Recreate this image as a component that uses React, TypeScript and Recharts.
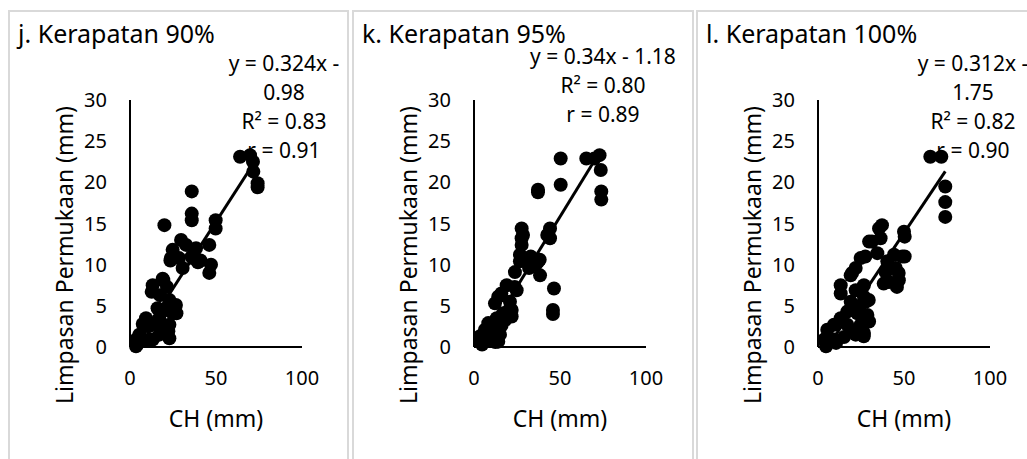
import React from "react";
import { ScatterChart, Scatter, XAxis, YAxis, ReferenceLine, Label } from "recharts";

// CH (mm) vs Limpasan Permukaan (mm), one pair of arrays per panel
const ch90 = [
  64, 69.8, 71.5, 71.7, 74.2, 74.2, 35.9, 35.9, 35.9, 20, 49.8, 49.8,
  29.7, 24.8, 23.8, 32.6, 38.4, 46.1, 47.1, 46.1, 36.4, 41, 30.6, 35.9, 39.5, 28.5, 23.5,
  19, 13.2, 12.6, 17.4, 22.9, 26.7, 24.8, 21, 16, 17, 9.3, 7.4, 13.2, 22.9, 22.9, 5.4, 3.5,
  11.2, 13.2, 17, 21.5, 19.4, 27, 22.3, 4.2, 3.5, 8.7, 10.7, 16.4,
];
const lp90 = [
  23.1, 23.3, 22.5, 21.3, 19.9, 19.4, 18.9, 16.2, 15.4, 14.8, 15.4, 14.4,
  13.0, 11.8, 10.8, 12.4, 12.0, 12.4, 10.0, 9.0, 10.8, 10.5, 9.6, 11.0, 10.3, 10.8, 10.5,
  8.3, 7.5, 6.7, 6.3, 5.7, 5.1, 4.1, 4.5, 4.7, 3.5, 3.5, 2.8, 2.8, 2.7, 1.05, 1.5, 0.9,
  0.9, 0.9, 1.5, 7.3, 8.1, 4.1, 1.9, 0.3, 0.1, 0.8, 2.5, 2.6,
];

const ch95 = [
  50.4, 65.3, 70, 73, 73.7, 74, 74, 50.4, 37.2, 37.2, 46.5, 45.9, 45.9,
  27.7, 27.7, 27.7, 28.5, 44.2, 44.2, 42.6, 26.7, 26.7, 23.8, 32.6, 37.4, 38.4, 32, 36, 38.2, 33,
  19, 24.8, 14.1, 12.2, 20.9, 21.9, 21.9, 16.9, 13.2, 8.3, 6.4, 11.2, 16, 15.1, 3.5, 3.5,
  9.3, 14.1, 23.7, 15.9, 4.7, 12.4, 18.2,
];
const lp95 = [
  22.9, 22.9, 22.9, 23.3, 21.5, 18.9, 17.9, 19.7, 19.1, 18.8, 7.1, 4.5, 4.0,
  14.4, 13.2, 12.4, 13.6, 14.4, 13.2, 13.6, 11.2, 10.4, 9.1, 10.8, 10.4, 8.7, 9.6, 10, 10.6, 11,
  7.5, 6.9, 6.1, 5.3, 5.5, 4.5, 3.7, 4.1, 3.5, 2.9, 2.1, 2.3, 2.6, 1.5, 1.3, 0.65,
  0.9, 0.65, 7.3, 6.5, 0.3, 0.6, 3.3,
];

const ch100 = [
  65.3, 71.7, 74, 74, 74, 37.2, 50.4, 50.4,
  35.5, 29.7, 36.4, 24.8, 21.9, 50, 44.2, 49, 40.3, 39.3, 45.2, 41.3, 47, 34.5, 27.5, 31.4, 38.2, 45.9, 46.9,
  19, 13.2, 13.2, 21.9, 26.7, 26.7, 27.7, 19, 28.7, 22.9, 29.7, 17, 13.2, 9.3, 17, 24.8, 26.7,
  21.9, 5.4, 3.5, 9.3, 15.1, 19, 4.7, 10.5, 26.6, 24.4, 29.5, 19.8,
];
const lp100 = [
  23.1, 23.1, 19.5, 17.6, 15.8, 14.8, 13.4, 11.0,
  14.4, 12.8, 13.2, 10.8, 9.6, 14.0, 11.2, 11, 10.4, 9.1, 9.6, 7.9, 8.1, 11.4, 11.0, 12.8, 7.7, 7.3, 9.0,
  8.7, 7.5, 6.5, 6.9, 7.5, 6.1, 5.5, 5.5, 3.9, 4.1, 3.1, 4.3, 3.5, 2.7, 2.7, 2.7, 1.7,
  1.5, 2.1, 0.9, 0.9, 1.2, 1.9, 0.1, 0.5, 1.3, 5.0, 5.7, 9.0,
];

const xTicks = [0, 50, 100];
const yTicks = [0, 5, 10, 15, 20, 25, 30];

const titles = ["j. Kerapatan 90%", "k. Kerapatan 95%", "l. Kerapatan 100%"];
const equations = [
  ["y = 0.324x -", "0.98", "R² = 0.83", "r = 0.91"],
  ["y = 0.34x - 1.18", "R² = 0.80", "r = 0.89"],
  ["y = 0.312x -", "1.75", "R² = 0.82", "r = 0.90"],
];
const slopes = [0.324, 0.34, 0.312];
const intercepts = [-0.98, -1.18, -1.75];

const FONT = "'Noto Sans', sans-serif";

const series = [
  [ch90, lp90],
  [ch95, lp95],
  [ch100, lp100],
];

// layout per panel
const panels = [
  { left: 8, width: 341, chartW: 340, eqX: 284, eqTop: 49 },
  { left: 352, width: 342, chartW: 341, eqX: 603, eqTop: 42 },
  { left: 696, width: 340, chartW: 331, eqX: 973, eqTop: 49 },
];

const Dot = (props: any) => <circle cx={props.cx} cy={props.cy} r={7} fill="#000" />;

function Panel({ idx }: { idx: number }) {
  const p = panels[idx];
  const [xs, ys] = series[idx];
  const data = xs.map((x, i) => ({ x, y: ys[i] }));
  const xMin = Math.min(...xs);
  const xMax = Math.max(...xs);
  const seg = [
    { x: xMin, y: slopes[idx] * xMin + intercepts[idx] },
    { x: xMax, y: slopes[idx] * xMax + intercepts[idx] },
  ];
  const tickStyle = { fill: "#000", fontSize: 20, fontFamily: FONT };
  return (
    <>
      <div
        style={{
          position: "absolute",
          left: p.left,
          top: 10,
          width: p.width,
          height: 470,
          border: "2px solid #d9d9d9",
          boxSizing: "border-box",
        }}
      />
      <div
        style={{
          position: "absolute",
          left: p.left + 10,
          top: 21,
          fontSize: 25,
          lineHeight: "24px",
          whiteSpace: "nowrap",
        }}
      >
        {titles[idx]}
      </div>
      <div
        style={{
          position: "absolute",
          left: p.eqX - 100,
          top: p.eqTop,
          width: 200,
          textAlign: "center",
          fontSize: 21,
          lineHeight: "29px",
          whiteSpace: "nowrap",
        }}
      >
        {equations[idx].map((l, i) => (
          <div key={i}>{l}</div>
        ))}
      </div>
      <div
        style={{
          position: "absolute",
          left: p.left + 56 - 170,
          top: 255 - 15,
          width: 340,
          height: 30,
          lineHeight: "30px",
          fontSize: 23,
          textAlign: "center",
          transform: "rotate(-90deg)",
          whiteSpace: "nowrap",
        }}
      >
        Limpasan Permukaan (mm)
      </div>
      <div style={{ position: "absolute", left: p.left + 1, top: 11 }}>
        <ScatterChart
          width={p.chartW}
          height={448}
          margin={{ top: 89, right: p.chartW - 121 - 172, left: 0, bottom: 0 }}
        >
          <XAxis
            type="number"
            dataKey="x"
            domain={[0, 100]}
            ticks={xTicks}
            interval={0}
            tickLine={false}
            tickMargin={18}
            height={112}
            axisLine={{ stroke: "#000", strokeWidth: 2 }}
            tick={tickStyle}
          >
            <Label
              value="CH (mm)"
              position="insideBottom"
              offset={32}
              fill="#000"
              fontSize={23}
              fontFamily={FONT}
            />
          </XAxis>
          <YAxis
            type="number"
            dataKey="y"
            domain={[0, 30]}
            ticks={yTicks}
            interval={0}
            width={121}
            tickLine={false}
            tickMargin={17}
            axisLine={{ stroke: "#000", strokeWidth: 2 }}
            tick={tickStyle}
          />
          <Scatter data={data} shape={Dot} isAnimationActive={false} />
          <ReferenceLine segment={seg} stroke="#000" strokeWidth={3} ifOverflow="visible" />
        </ScatterChart>
      </div>
    </>
  );
}

export default function App() {
  return (
    <div
      style={{
        position: "absolute",
        left: 0,
        top: 0,
        width: 1027,
        height: 459,
        overflow: "hidden",
        background: "#fff",
        fontFamily: FONT,
        color: "#000",
      }}
    >
      {titles.map((_, i) => (
        <Panel key={i} idx={i} />
      ))}
    </div>
  );
}
